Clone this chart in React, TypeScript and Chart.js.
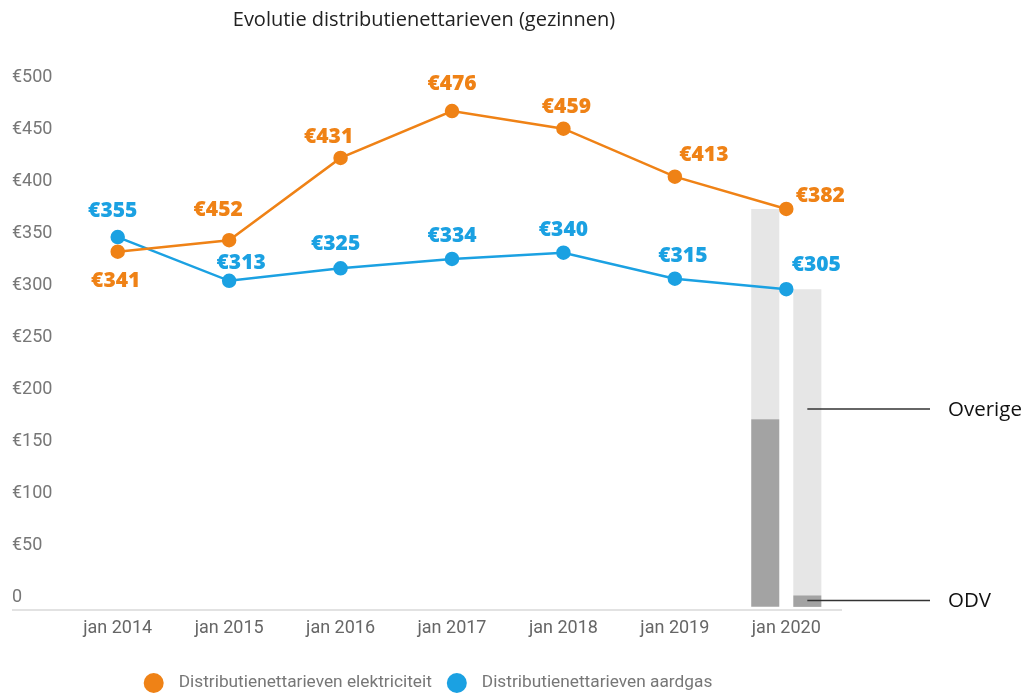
import { useEffect, useRef } from 'react';
import { Chart, registerables } from 'chart.js';
Chart.register(...registerables);

const categories = ['jan 2014', 'jan 2015', 'jan 2016', 'jan 2017', 'jan 2018', 'jan 2019', 'jan 2020'];
const elecValues = [341, 352, 431, 476, 459, 413, 382];
const gasValues = [355, 313, 325, 334, 340, 315, 305];
const elecLabels = ['€341', '€452', '€431', '€476', '€459', '€413', '€382'];
const gasLabels = ['€355', '€313', '€325', '€334', '€340', '€315', '€305'];
const odvElec = [null, null, null, null, null, null, 180];
const overigeElec = [null, null, null, null, null, null, 202];
const odvGas = [null, null, null, null, null, null, 11];
const overigeGas = [null, null, null, null, null, null, 294];
const yTicks = [0, 50, 100, 150, 200, 250, 300, 350, 400, 450, 500];

const TITLE = 'Evolutie distributienettarieven (gezinnen)';
const ELEC_NAME = 'Distributienettarieven elektriciteit';
const GAS_NAME = 'Distributienettarieven aardgas';

const ORANGE = '#EF8216';
const BLUE = '#1BA1E2';
const LIGHT = '#E6E6E6';
const DARK = '#A3A3A3';

// label placement relative to each point (pixels)
const elecLabelShift = [[-2, 29], [-11, -30], [-12, -21], [0, -27], [3, -22], [29, -22], [34, -13]];
const gasLabelShift = [[-5, -26], [12, -18], [-5, -24], [0, -23], [0, -23], [8, -23], [30, -24]];

const annotations = [
  { text: 'Overige', value: 190 },
  { text: 'ODV', value: 6 },
];

const customPlugin = {
  id: 'custom',
  afterDatasetsDraw(chart: any) {
    const ctx = chart.ctx;
    const area = chart.chartArea;
    const x = chart.scales.x;
    const y = chart.scales.y;
    ctx.save();
    // baseline
    ctx.strokeStyle = '#E2E2E2';
    ctx.lineWidth = 2;
    ctx.beginPath();
    ctx.moveTo(12, area.bottom);
    ctx.lineTo(area.right, area.bottom);
    ctx.stroke();

    // data labels
    ctx.font = '800 21px "Open Sans"';
    ctx.textAlign = 'center';
    ctx.textBaseline = 'middle';
    const drawLabels = (dsIndex: number, labels: string[], shifts: number[][], color: string) => {
      const meta = chart.getDatasetMeta(dsIndex);
      ctx.fillStyle = color;
      meta.data.forEach((pt: any, i: number) => {
        ctx.fillText(labels[i], pt.x + shifts[i][0], pt.y + shifts[i][1]);
      });
    };
    drawLabels(0, elecLabels, elecLabelShift, ORANGE);
    drawLabels(1, gasLabels, gasLabelShift, BLUE);

    // annotations
    const gasBarMeta = chart.getDatasetMeta(5);
    const bar = gasBarMeta.data[6];
    const startX = bar ? bar.x : x.getPixelForValue(6) + 21;
    ctx.strokeStyle = '#333';
    ctx.lineWidth = 1.5;
    ctx.fillStyle = '#111';
    ctx.font = '20.5px "Open Sans"';
    ctx.textAlign = 'left';
    annotations.forEach((a) => {
      const py = y.getPixelForValue(a.value);
      ctx.beginPath();
      ctx.moveTo(startX, py);
      ctx.lineTo(930, py);
      ctx.stroke();
      ctx.fillText(a.text, 948, py + 1);
    });
    ctx.restore();
  },
  afterDraw(chart: any) {
    const ctx = chart.ctx;
    ctx.save();
    // title
    ctx.fillStyle = '#222';
    ctx.font = '20px "Open Sans"';
    ctx.textAlign = 'center';
    ctx.textBaseline = 'middle';
    ctx.fillText(TITLE, 424, 20);

    // legend
    ctx.font = '17.3px Roboto';
    const items = [
      { text: ELEC_NAME, color: ORANGE },
      { text: GAS_NAME, color: BLUE },
    ];
    const r = 10;
    const gapCircleText = 15;
    const gapItems = 15;
    const widths = items.map((it) => 2 * r + gapCircleText + ctx.measureText(it.text).width);
    const total = widths.reduce((a, b) => a + b, 0) + gapItems;
    let lx = 428 - total / 2;
    const ly = 683;
    items.forEach((it, i) => {
      ctx.fillStyle = it.color;
      ctx.beginPath();
      ctx.arc(lx + r, ly, r, 0, Math.PI * 2);
      ctx.fill();
      ctx.fillStyle = '#777';
      ctx.textAlign = 'left';
      ctx.fillText(it.text, lx + 2 * r + gapCircleText, ly);
      lx += widths[i] + gapItems;
    });
    ctx.restore();
  },
};

export default function App() {
  const ref = useRef<HTMLCanvasElement>(null);
  useEffect(() => {
    const canvas = ref.current!;
    const barCommon = { categoryPercentage: 0.755, barPercentage: 0.667, order: 1 };
    const lineCommon = { pointRadius: 6, pointHoverRadius: 6, borderWidth: 2.5, tension: 0, order: 0, fill: false };
    const chart = new Chart(canvas, {
      type: 'line',
      data: {
        labels: categories,
        datasets: [
          { type: 'line', label: ELEC_NAME, data: elecValues, borderColor: ORANGE, backgroundColor: ORANGE, pointBackgroundColor: ORANGE, pointBorderColor: ORANGE, stack: 'l1', ...lineCommon },
          { type: 'line', label: GAS_NAME, data: gasValues, borderColor: BLUE, backgroundColor: BLUE, pointBackgroundColor: BLUE, pointBorderColor: BLUE, stack: 'l2', ...lineCommon },
          { type: 'bar', label: 'ODV', data: odvElec, backgroundColor: DARK, stack: 'e', ...barCommon },
          { type: 'bar', label: 'Overige', data: overigeElec, backgroundColor: LIGHT, stack: 'e', ...barCommon },
          { type: 'bar', label: 'ODV', data: odvGas, backgroundColor: DARK, stack: 'g', ...barCommon },
          { type: 'bar', label: 'Overige', data: overigeGas, backgroundColor: LIGHT, stack: 'g', ...barCommon },
        ] as any,
      },
      options: {
        animation: false,
        responsive: false,
        events: [],
        layout: { padding: { left: 12, right: 185, top: 86, bottom: 53 } },
        plugins: { legend: { display: false }, title: { display: false }, tooltip: { enabled: false } },
        scales: {
          x: {
            stacked: true,
            offset: true,
            grid: { display: false, drawTicks: false },
            border: { display: false },
            ticks: { color: '#666', font: { family: 'Roboto', size: 18 }, padding: 8, maxRotation: 0 },
            afterFit: (s: any) => { s.height = 30; },
          },
          y: {
            stacked: true,
            min: -3,
            max: 500,
            grid: { display: false, drawTicks: false },
            border: { display: false },
            afterBuildTicks: (s: any) => { s.ticks = yTicks.map((v) => ({ value: v })); },
            ticks: {
              crossAlign: 'far',
              labelOffset: -9,
              color: '#777',
              font: { family: 'Roboto', size: 18 },
              callback: (v: any) => (v === 0 ? '0' : '€' + v),
            },
            afterFit: (s: any) => { s.width = 50; },
          },
        },
      } as any,
      plugins: [customPlugin],
    });
    return () => chart.destroy();
  }, []);
  return (
    <div style={{ position: 'absolute', left: 0, top: 0, width: 1027, height: 693, overflow: 'hidden', background: '#fff' }}>
      <canvas ref={ref} width={1027} height={693} style={{ display: 'block' }} />
    </div>
  );
}
